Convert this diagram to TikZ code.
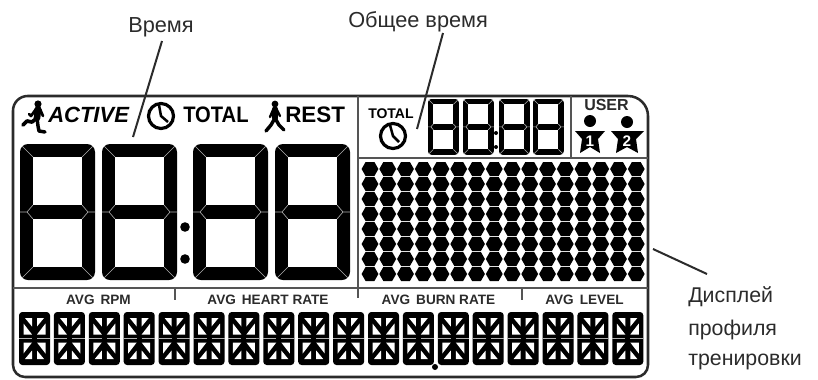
\documentclass[tikz,border=0pt]{standalone}
\usepackage{fontspec}
\setmainfont{Liberation Sans}
\newfontfamily\narrowbf[FakeStretch=0.9]{Liberation Sans Bold}
\newcommand{\pxfont}[1]{\fontsize{#1}{#1}\selectfont}
\definecolor{ink}{HTML}{2B2B2B}
\definecolor{sep}{HTML}{B0B0B0}
\tikzset{
  lcd/.pic={
    \fill[black,rounded corners=#1] (0,0) rectangle (75,136);
    \fill[white] (13,13) rectangle (62,61);
    \fill[white] (13,75) rectangle (62,123);
    \draw[sep,line width=.45pt] (2,2)--(13,13) (73,2)--(62,13) (2,134)--(13,123) (73,134)--(62,123)
      (0,68)--(7,68)--(13,61) (7,68)--(13,75) (75,68)--(68,68)--(62,61) (68,68)--(62,75);
  },
  seg/.pic={
    \fill[black,rounded corners=2.5pt] (0,0) rectangle (31,53);
    \foreach \a/\b in {1/1,-1/1,1/-1,-1/-1}{
      \begin{scope}[shift={(15.5,26.5)},xscale=\a,yscale=\b]
        \fill[white] (-9.5,-20.5)--(-2.5,-20.5)--(-2.5,-12)--cycle;
        \fill[white] (-11,-15)--(-11,-4)--(-2.5,-4)--cycle;
      \end{scope}
    }
    \draw[sep,line width=.35pt] (0,26.5)--(13,26.5) (18,26.5)--(31,26.5);
  },
  leader/.style={draw=ink,line width=1.5pt},
  rule/.style={draw=ink!80,line width=.8pt},
  lbl/.style={inner sep=0pt,text=ink,anchor=base west},
  tag/.style={inner sep=0pt,text=black,anchor=base west,font=\bfseries},
  avg/.style={inner sep=0pt,text=ink,anchor=base,font=\bfseries\pxfont{10.2}},
  clockring/.style={draw=black,line width=2.4pt},
  clockhand/.style={draw=black,line width=1.9pt},
  figure/.style={draw=black,line cap=round,line join=round},
}
\begin{document}
\begin{tikzpicture}[x=.75pt,y=-.75pt]
\useasboundingbox (0,0) rectangle (818,379);
% panel
\draw[draw=ink,line width=1.9pt] (13,240) [rounded corners=11pt] -- (13,96) [rounded corners=15pt] -- (648,96)
  [rounded corners=9pt] -- (648,377) -- (13,377) -- cycle;
\draw[rule] (358,96)--(358,288);
\draw[rule] (358,158)--(648,158);
\draw[rule] (571,96)--(571,158);
\draw[rule] (13,288)--(648,288);
\draw[rule] (175,288)--(175,300) (358,288)--(358,298) (522,288)--(522,300);
% large digits
\foreach \px in {20,102,193,275}{\pic at (\px,144) {lcd=6pt};}
\fill (185,227) circle (4.8);
\fill (185,259) circle (4.8);
% small digits
\foreach \px in {428,463,499,533}{\pic[scale=.41] at (\px,99) {lcd=2.5pt};}
\fill (496,133) circle (2);
\fill (496,147) circle (2);
% dot matrix
\foreach \c in {0,...,15}{\foreach \r in {0,...,7}{
  \fill[line join=round] ({370+17.75*\c-8.4},{169+15*\r}) -- ++(4,-7) -- ++(8.8,0) -- ++(4,7) -- ++(-4,7) -- ++(-8.8,0) -- cycle;
}}
% segment row
\foreach \c in {0,...,17}{\pic at ({19+34.9*\c},312) {seg};}
\fill (435,367) circle (3);
% top texts
\node[tag] (active) at (48,122) {\pxfont{16.5}\itshape ACTIVE};
\node[inner sep=0pt,anchor=base west] (total) at (183,122) {\pxfont{16.8}\narrowbf TOTAL};
\node[tag] (rest) at (285,122) {\pxfont{16.8}REST};
\node[tag] (total2) at (368,118) {\pxfont{10.5}TOTAL};
\node[tag,text=ink] (user) at (584,110) {\pxfont{12}USER};
% clocks
\draw[clockring] (161,116) circle (12.5);
\draw[clockhand] (159,105)--(161,116)--(168,122);
\draw[clockring] (393,136) circle (12.5);
\draw[clockhand] (390,125)--(393,136)--(399,142);
% runner
\fill (38,104) circle (3.6);
\draw[figure,line width=5pt] (38,109)--(37,118);
\draw[figure,line width=2pt] (36,109)--(31,116)--(29,114);
\draw[figure,line width=2pt] (40,109)--(43,116);
\draw[figure,line width=2.8pt] (37,118)--(32,122)--(27,121)--(23,125);
\draw[figure,line width=2.6pt] (37,118)--(38,126)--(39,131)--(45,132);
% walker
\fill (275,104) circle (3.4);
\draw[figure,line width=4.4pt] (275,109)--(275,118);
\draw[figure,line width=1.8pt] (273,110)--(270,117) (277,110)--(280,116);
\draw[figure,line width=2.6pt] (275,118)--(271,125)--(266,131);
\draw[figure,line width=2.6pt] (275,118)--(279,125)--(284,130);
% users
\fill (590,121) circle (6);
\fill[line join=round] (575,131)--(605,131)--(598,139)--(600,153)--(590,147)--(580,153)--(582,139)--cycle;
\node[inner sep=0pt,text=white,font=\bfseries\pxfont{11.5}] (one) at (590,141) {1};
\fill (627,122) circle (6);
\fill[line join=round] (611,131)--(644,131)--(636,139)--(638,153)--(627,147)--(616,153)--(618,139)--cycle;
\node[inner sep=0pt,text=white,font=\bfseries\pxfont{11.5}] (two) at (627,141) {2};
% avg labels
\node[avg] (a1) at (98.5,304) {AVG\hspace{4.5pt}RPM};
\node[avg] (a2) at (268,304) {AVG\hspace{4.5pt}HEART RATE};
\node[avg] (a3) at (438.5,304) {AVG\hspace{4.5pt}BURN RATE};
\node[avg] (a4) at (584.5,304) {AVG\hspace{4.5pt}LEVEL};
% callouts
\node[lbl,font=\pxfont{16.3}] (vremya) at (128,32) {Время};
\node[lbl,font=\pxfont{16.3}] (obshchee) at (348,27) {Общее время};
\node[lbl,font=\pxfont{16}] (disp1) at (688,302) {Дисплей};
\node[lbl,font=\pxfont{16}] (disp2) at (688,335) {профиля};
\node[lbl,font=\pxfont{16}] (disp3) at (688,365) {тренировки};
\coordinate (t1) at (162,41);
\coordinate (t1e) at (133,137);
\coordinate (t2) at (443,33);
\coordinate (t2e) at (417,129);
\coordinate (t3) at (707,274);
\coordinate (t3e) at (653,249);
\draw[leader] (t1)--(t1e);
\draw[leader] (t2)--(t2e);
\draw[leader] (t3)--(t3e);
\end{tikzpicture}
\end{document}
